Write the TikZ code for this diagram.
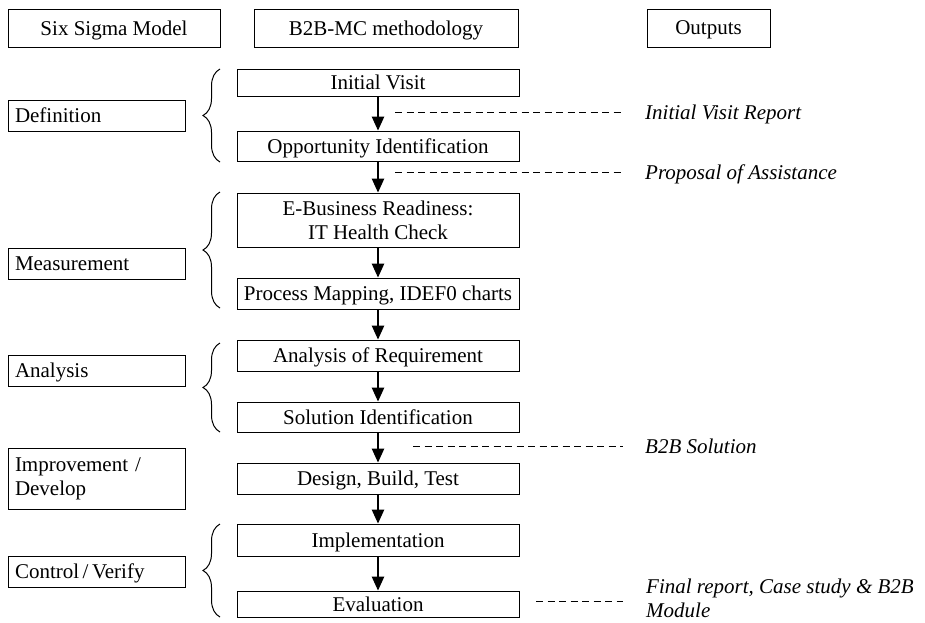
\documentclass[tikz,border=0pt]{standalone}
\usepackage{fontspec}
\setmainfont{Liberation Serif}
\usetikzlibrary{arrows.meta,decorations.pathreplacing}
\begin{document}
\begin{tikzpicture}[x=1pt,y=-1pt,
  font=\fontsize{21}{24}\selectfont,
  nodepth/.style={text depth=0pt},
  box/.style={draw,line width=1pt,inner sep=0pt,align=center},
  midbox/.style={box,minimum width=282pt},
  leftbox/.style={draw,line width=1pt,inner xsep=7pt,inner ysep=0pt,text width=163pt,align=left},
  flow/.style={line width=1.1pt,-{Triangle[width=12.5pt,length=14pt]}},
  outline/.style={line width=1pt,dash pattern=on 7pt off 4.5pt},
  outtext/.style={anchor=west,inner sep=0pt,align=left,font=\fontsize{21}{24}\selectfont\itshape},
  curly/.style={line width=1pt,decorate,decoration={brace,amplitude=17pt,aspect=0.5}}]
\useasboundingbox (0,0) rectangle (925,622);
% headers
\node[box,nodepth,minimum width=212pt,minimum height=38pt] (hsix) at (114,28) {Six Sigma Model};
\node[box,nodepth,minimum width=264pt,minimum height=38pt] (hb2b) at (386,28) {B2B-MC methodology};
\node[box,nodepth,minimum width=123pt,minimum height=38pt] (hout) at (708.5,28) {Outputs};
% middle column
\node[midbox,nodepth,minimum height=27pt] (iv) at (378,82.5) {Initial Visit};
\node[midbox,nodepth,minimum height=30pt] (opp) at (378,146) {Opportunity Identification};
\node[midbox,minimum height=54pt] (eb) at (378,220) {E-Business Readiness:\\IT Health Check};
\node[midbox,nodepth,minimum height=31pt] (pm) at (378,293.5) {Process Mapping, IDEF0 charts};
\node[midbox,nodepth,minimum height=31pt] (ar) at (378,355.5) {Analysis of Requirement};
\node[midbox,nodepth,minimum height=30pt] (si) at (378,417) {Solution Identification};
\node[midbox,nodepth,minimum height=31pt] (dbt) at (378,478.5) {Design, Build, Test};
\node[midbox,nodepth,minimum height=32pt] (imp) at (378,540) {Implementation};
\node[midbox,nodepth,minimum height=26pt] (ev) at (378,604) {Evaluation};
\foreach \a/\b in {iv/opp,opp/eb,eb/pm,pm/ar,ar/si,si/dbt,dbt/imp,imp/ev}
  \draw[flow] (\a) -- (\b);
% left column
\node[leftbox,nodepth,minimum height=31pt] (def) at (96.5,115.5) {Definition};
\node[leftbox,nodepth,minimum height=31pt] (meas) at (96.5,263.5) {Measurement};
\node[leftbox,nodepth,minimum height=31pt] (ana) at (96.5,370.5) {Analysis};
\node[leftbox,minimum height=61pt] (impr) at (96.5,478.5) {Improvement /\\Develop};
\node[leftbox,nodepth,minimum height=31pt] (ctl) at (96.5,571.5) {Control\,/\,Verify};
% braces
\coordinate (b1t) at (220,69);  \coordinate (b1b) at (220,162);
\coordinate (b2t) at (220,192); \coordinate (b2b) at (220,308);
\coordinate (b3t) at (220,343); \coordinate (b3b) at (220,432);
\coordinate (b4t) at (220,524); \coordinate (b4b) at (220,617);
\draw[curly] (b1b) -- (b1t);
\draw[curly] (b2b) -- (b2t);
\draw[curly] (b3b) -- (b3t);
\draw[curly] (b4b) -- (b4t);
% outputs
\node[outtext,nodepth] (o1) at (645,112) {Initial Visit Report};
\node[outtext,nodepth] (o2) at (645,172) {Proposal of Assistance};
\node[outtext,nodepth] (o3) at (645,446) {B2B Solution};
\node[outtext] (o4) at (646,598) {Final report, Case study \& B2B\\Module};
\coordinate (d1s) at (395,112); \coordinate (d1e) at (623,112);
\coordinate (d2s) at (395,172); \coordinate (d2e) at (623,172);
\coordinate (d3s) at (413,446); \coordinate (d3e) at (623,446);
\coordinate (d4s) at (536,601); \coordinate (d4e) at (623,601);
\draw[outline] (d1s) -- (d1e);
\draw[outline] (d2s) -- (d2e);
\draw[outline] (d3s) -- (d3e);
\draw[outline] (d4s) -- (d4e);
\end{tikzpicture}
\end{document}
